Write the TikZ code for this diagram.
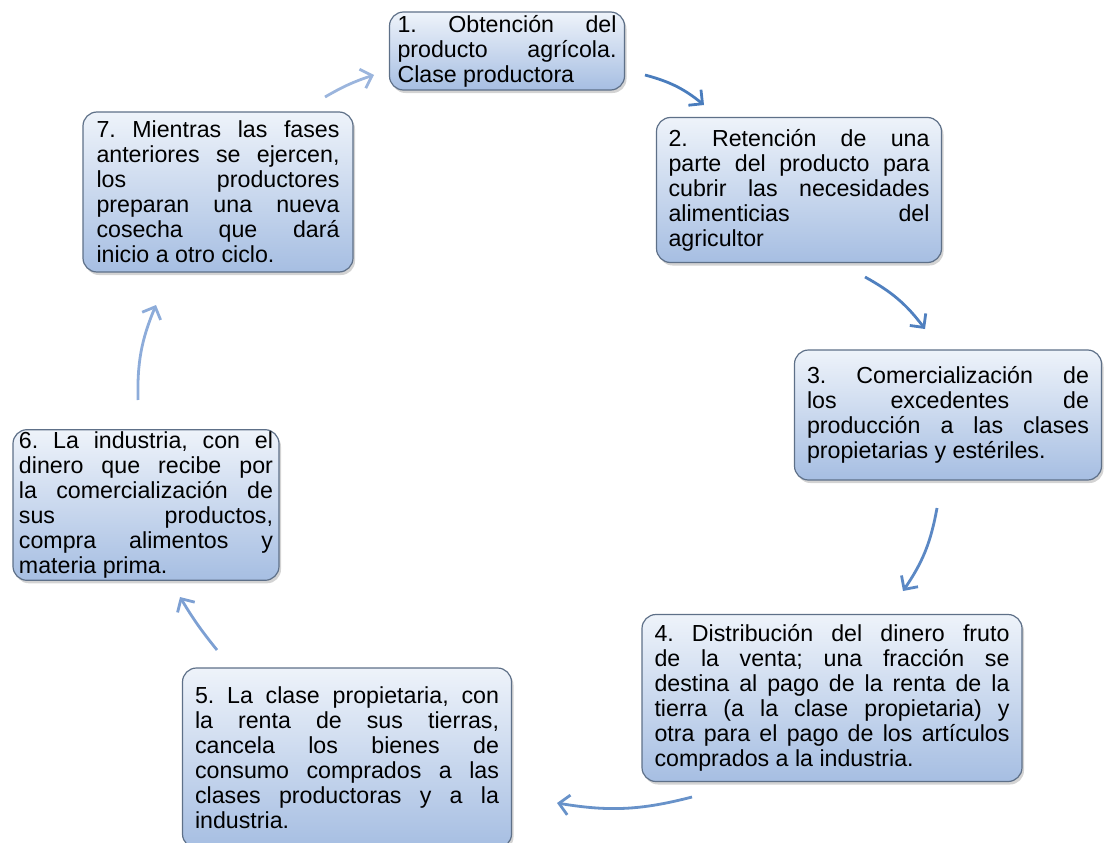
\documentclass[tikz,border=0pt]{standalone}
\usepackage{fontspec}
\setmainfont{Liberation Sans}
\usetikzlibrary{arrows.meta,shadows}

\definecolor{boxtop}{HTML}{EEF3FA}
\definecolor{boxbot}{HTML}{A6BEE2}
\definecolor{boxline}{HTML}{5E7088}
\definecolor{arr1}{HTML}{4A7DBD}
\definecolor{arr2}{HTML}{5080BF}
\definecolor{arr3}{HTML}{5B88C4}
\definecolor{arr4}{HTML}{6892C9}
\definecolor{arr5}{HTML}{7DA0D3}
\definecolor{arr6}{HTML}{8DACDA}
\definecolor{arr7}{HTML}{9BB5DD}

\hyphenpenalty=10000
\emergencystretch=30pt
\frenchspacing

\begin{document}
\begin{tikzpicture}[x=1pt,y=-1pt,
    fase/.style={draw=boxline,line width=1.2pt,rounded corners=14pt,
      top color=boxtop,bottom color=boxbot,
      drop shadow={shadow xshift=2pt,shadow yshift=-3pt,opacity=0.35},
      align=justify,inner xsep=6pt,inner ysep=2pt,
      font=\fontsize{23.2}{25}\selectfont},
    flecha/.style={line width=2.8pt,-{Straight Barb[length=10pt,width=20pt]},bend left=12}]
    \clip (0,0) rectangle (1111,843);
    \useasboundingbox (0,0) rectangle (1111,843);

    \node[fase,text width=219pt,minimum width=235pt,minimum height=78pt] (f1) at (507,51)
      {1. Obtención del\linebreak producto agrícola.\linebreak Clase productora};
    \node[fase,text width=261pt,minimum width=285pt,minimum height=145pt] (f2) at (799,190)
      {2. Retención de una\linebreak parte del producto para\linebreak cubrir las necesidades\linebreak alimenticias del\linebreak agricultor};
    \node[fase,text width=282pt,minimum width=307pt,minimum height=130pt] (f3) at (948,415)
      {3. Comercialización de\linebreak los excedentes de\linebreak producción a las clases\linebreak propietarias y estériles.};
    \node[fase,text width=355pt,minimum width=380pt,minimum height=167pt] (f4) at (832,698)
      {4. Distribución del dinero fruto\linebreak de la venta; una fracción se\linebreak destina al pago de la renta de la\linebreak tierra (a la clase propietaria) y\linebreak otra para el pago de los artículos\linebreak comprados a la industria.};
    \node[fase,text width=304pt,minimum width=329pt,minimum height=180pt] (f5) at (347,758)
      {5. La clase propietaria, con\linebreak la renta de sus tierras,\linebreak cancela los bienes de\linebreak consumo comprados a las\linebreak clases productoras y a la\linebreak industria.};
    \node[fase,text width=254pt,minimum width=266pt,minimum height=146pt,inner xsep=3pt] (f6) at (146,505)
      {6. La industria, con el\linebreak dinero que recibe por\linebreak la comercialización de\linebreak sus productos,\linebreak compra alimentos y\linebreak materia prima.};
    \node[fase,text width=243pt,minimum width=270pt,minimum height=160pt] (f7) at (218,192)
      {7. Mientras las fases\linebreak anteriores se ejercen,\linebreak los productores\linebreak preparan una nueva\linebreak cosecha que dará\linebreak inicio a otro ciclo.};

    % extremos de las flechas
    \coordinate (s12) at (645,75);  \coordinate (e12) at (704,105);
    \coordinate (s23) at (865,277); \coordinate (e23) at (925,329);
    \coordinate (s34) at (937,508); \coordinate (e34) at (903,591);
    \coordinate (s45) at (692,797); \coordinate (e45) at (557,803);
    \coordinate (s56) at (217,650); \coordinate (e56) at (180,597);
    \coordinate (s67) at (138,400); \coordinate (e67) at (156,305);
    \coordinate (s71) at (325,97);  \coordinate (e71) at (374,75);

    \draw[flecha,arr1] (s12) to (e12);
    \draw[flecha,arr2] (s23) to (e23);
    \draw[flecha,arr3] (s34) to (e34);
    \draw[flecha,arr4] (s45) to (e45);
    \draw[flecha,arr5,bend left=4] (s56) to (e56);
    \draw[flecha,arr6] (s67) to (e67);
    \draw[flecha,arr7,bend left=6] (s71) to (e71);
\end{tikzpicture}
\end{document}
